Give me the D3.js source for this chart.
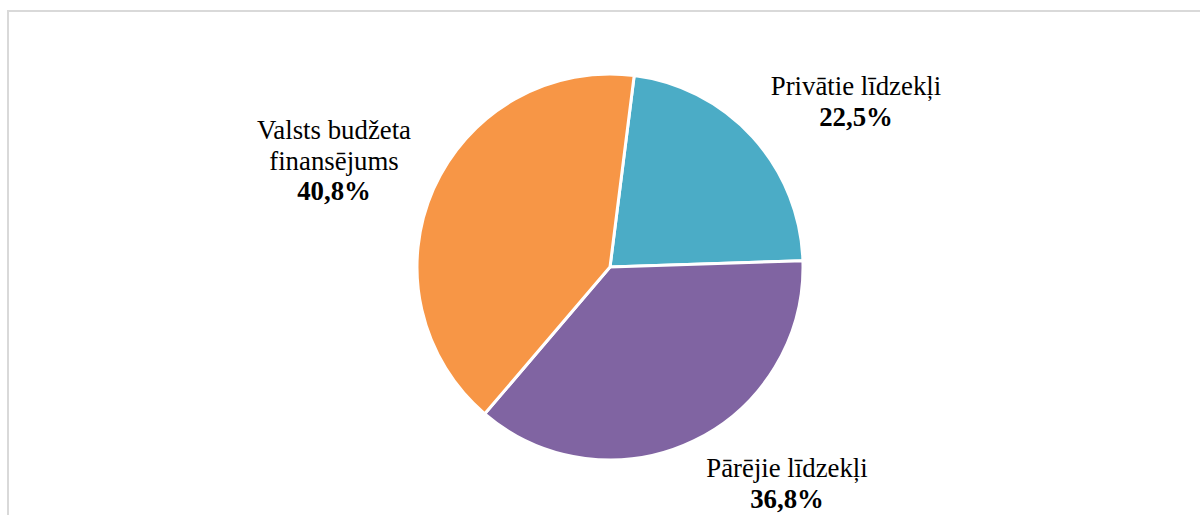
<!DOCTYPE html>
<html>
<head>
<meta charset="utf-8">
<script src="https://cdn.jsdelivr.net/npm/d3@7/dist/d3.min.js"></script>
<style>
  html, body { margin: 0; padding: 0; background: #fff; }
  svg { display: block; }
  .lbl { font-family: "Liberation Serif", "Times New Roman", Times, serif; font-size: 26.8px; fill: #000; }
</style>
</head>
<body>
<svg id="chart" width="1200" height="515"></svg>
<script>
// Funding sources (share of total, %)
const categories = ["Privātie līdzekļi", "Pārējie līdzekļi", "Valsts budžeta finansējums"];
const values = [22.5, 36.8, 40.8];
const valueLabels = ["22,5%", "36,8%", "40,8%"];
const colors = ["#4BACC6", "#8064A2", "#F79646"];
// label lines per slice (name can wrap)
const labelLines = [["Privātie līdzekļi"], ["Pārējie līdzekļi"], ["Valsts budžeta", "finansējums"]];
// label anchor points (centre x, first baseline y)
const labelPos = [[856, 95], [787, 477], [334, 139]];

const svg = d3.select("#chart");

// chart frame
svg.append("rect")
  .attr("x", 8).attr("y", 11)
  .attr("width", 1230).attr("height", 540)
  .attr("fill", "none")
  .attr("stroke", "#d9d9d9")
  .attr("stroke-width", 2);

const cx = 610, cy = 267, r = 193;
const startDeg = 7.2;

const pie = d3.pie().sort(null).value(d => d)
  .startAngle(startDeg * Math.PI / 180)
  .endAngle(startDeg * Math.PI / 180 + 2 * Math.PI);
const arc = d3.arc().innerRadius(0).outerRadius(r);

const g = svg.append("g").attr("transform", `translate(${cx},${cy})`);
g.selectAll("path")
  .data(pie(values))
  .join("path")
  .attr("d", arc)
  .attr("fill", (d, i) => colors[i])
  .attr("stroke", "#fff")
  .attr("stroke-width", 3)
  .attr("stroke-linejoin", "round");

const lineH = 30.5;
const labels = svg.append("g").attr("text-anchor", "middle");

categories.forEach((c, i) => {
  const [x, y] = labelPos[i];
  const t = labels.append("text").attr("class", "lbl").attr("x", x).attr("y", y);
  labelLines[i].forEach((ln, k) => {
    t.append("tspan").attr("x", x).attr("dy", k === 0 ? 0 : lineH).text(ln);
  });
  t.append("tspan").attr("x", x).attr("dy", lineH)
    .attr("font-weight", "bold").text(valueLabels[i]);
});
</script>
</body>
</html>
